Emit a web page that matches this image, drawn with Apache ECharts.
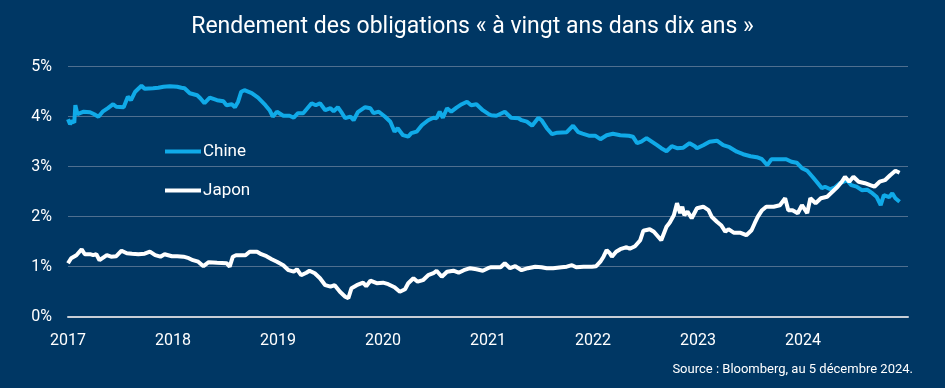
<!DOCTYPE html>
<html>
<head>
<meta charset="utf-8">
<script src="https://cdn.jsdelivr.net/npm/echarts@6/dist/echarts.min.js"></script>
<style>
html,body{margin:0;padding:0;background:#003764;}
#c{width:945px;height:388px;}
</style>
</head>
<body>
<div id="c"></div>
<script>
const titleText = "Rendement des obligations « à vingt ans dans dix ans »";
const sourceText = "Source : Bloomberg, au 5 décembre 2024.";
const yearTicks = ["2017","2018","2019","2020","2021","2022","2023","2024"];
const yTicks = ["0%","1%","2%","3%","4%","5%"];
const seriesNames = ["Chine","Japon"];

const chinaX = [2017.00,2017.02,2017.04,2017.06,2017.07,2017.09,2017.10,2017.15,2017.21,2017.25,2017.29,2017.33,2017.38,2017.43,2017.46,2017.53,2017.57,2017.60,2017.64,2017.70,2017.73,2017.81,2017.86,2017.91,2017.97,
2018.04,2018.08,2018.11,2018.16,2018.23,2018.26,2018.30,2018.35,2018.42,2018.48,2018.51,2018.56,2018.59,2018.62,2018.65,2018.68,2018.75,2018.81,2018.88,2018.92,2018.95,2018.99,
2019.05,2019.11,2019.15,2019.19,2019.24,2019.32,2019.36,2019.40,2019.45,2019.50,2019.53,2019.57,2019.61,2019.64,2019.69,2019.72,2019.76,2019.83,2019.88,2019.91,2019.96,
2020.02,2020.07,2020.11,2020.14,2020.19,2020.24,2020.27,2020.32,2020.37,2020.43,2020.48,2020.51,2020.54,2020.57,2020.61,2020.65,2020.70,2020.75,2020.80,2020.84,2020.89,2020.95,
2021.00,2021.03,2021.08,2021.13,2021.16,2021.22,2021.29,2021.32,2021.37,2021.42,2021.48,2021.51,2021.56,2021.61,2021.66,2021.75,2021.81,2021.86,2021.90,2021.96,
2022.02,2022.07,2022.13,2022.19,2022.26,2022.34,2022.38,2022.42,2022.46,2022.51,2022.56,2022.61,2022.65,2022.70,2022.75,2022.80,2022.86,2022.92,2022.97,2022.99,
2023.05,2023.11,2023.18,2023.24,2023.30,2023.37,2023.43,2023.50,2023.56,2023.61,2023.66,2023.70,2023.78,2023.84,2023.89,2023.94,2023.99,
2024.04,2024.09,2024.13,2024.18,2024.21,2024.26,2024.30,2024.35,2024.39,2024.42,2024.46,2024.51,2024.56,2024.61,2024.66,2024.70,2024.74,2024.77,2024.82,2024.85,2024.88,2024.92];
const chinaY = [3.95,3.85,3.92,3.88,4.23,4.05,4.08,4.10,4.09,4.05,4.00,4.10,4.17,4.25,4.20,4.19,4.40,4.33,4.50,4.62,4.56,4.57,4.58,4.60,4.61,
4.60,4.58,4.57,4.47,4.43,4.37,4.27,4.38,4.33,4.31,4.23,4.25,4.19,4.30,4.50,4.53,4.47,4.38,4.23,4.13,4.00,4.10,
4.02,4.02,3.98,4.07,4.07,4.27,4.23,4.27,4.13,4.17,4.11,4.19,4.07,3.97,4.00,3.93,4.09,4.19,4.17,4.07,4.10,
4.00,3.90,3.70,3.77,3.63,3.60,3.67,3.70,3.83,3.93,3.98,3.97,4.10,3.98,4.17,4.10,4.18,4.25,4.30,4.23,4.25,4.13,
4.06,4.03,4.02,4.07,4.10,3.98,3.97,3.93,3.90,3.82,3.98,3.93,3.77,3.65,3.68,3.69,3.82,3.69,3.66,3.62,
3.62,3.55,3.63,3.66,3.63,3.62,3.60,3.47,3.50,3.57,3.50,3.43,3.37,3.31,3.41,3.37,3.38,3.47,3.41,3.37,
3.43,3.50,3.52,3.43,3.39,3.30,3.25,3.21,3.19,3.15,3.03,3.15,3.15,3.15,3.10,3.08,2.97,
2.92,2.80,2.70,2.57,2.60,2.55,2.58,2.67,2.70,2.73,2.63,2.60,2.53,2.54,2.47,2.40,2.23,2.43,2.39,2.47,2.37,2.30];

const japanX = [2017.00,2017.03,2017.08,2017.13,2017.16,2017.21,2017.24,2017.27,2017.30,2017.37,2017.41,2017.46,2017.51,2017.56,2017.61,2017.67,2017.73,2017.78,2017.83,2017.88,2017.92,2017.99,
2018.04,2018.10,2018.15,2018.19,2018.24,2018.29,2018.34,2018.42,2018.51,2018.54,2018.57,2018.60,2018.69,2018.73,2018.80,2018.84,2018.89,2018.94,2018.99,
2019.05,2019.10,2019.15,2019.18,2019.22,2019.27,2019.30,2019.35,2019.40,2019.45,2019.50,2019.54,2019.59,2019.64,2019.67,2019.70,2019.75,2019.81,2019.84,2019.88,2019.94,
2020.00,2020.05,2020.11,2020.16,2020.21,2020.24,2020.29,2020.33,2020.38,2020.43,2020.48,2020.51,2020.56,2020.61,2020.67,2020.72,2020.77,2020.83,2020.89,2020.95,
2021.00,2021.03,2021.12,2021.16,2021.21,2021.26,2021.32,2021.38,2021.45,2021.51,2021.56,2021.62,2021.70,2021.75,2021.80,2021.84,2021.91,2021.99,
2022.03,2022.07,2022.10,2022.13,2022.16,2022.18,2022.22,2022.26,2022.32,2022.35,2022.40,2022.45,2022.48,2022.54,2022.58,2022.65,2022.70,2022.73,2022.77,2022.80,2022.83,2022.85,2022.87,2022.90,2022.94,2022.99,
2023.05,2023.10,2023.13,2023.18,2023.22,2023.26,2023.29,2023.34,2023.40,2023.46,2023.51,2023.54,2023.57,2023.61,2023.65,2023.72,2023.78,2023.83,2023.86,2023.90,2023.95,2023.99,
2024.04,2024.07,2024.12,2024.17,2024.23,2024.28,2024.33,2024.37,2024.40,2024.44,2024.48,2024.53,2024.59,2024.64,2024.68,2024.73,2024.78,2024.83,2024.88,2024.92];
const japanY = [1.07,1.17,1.23,1.35,1.25,1.25,1.23,1.25,1.13,1.23,1.20,1.21,1.32,1.27,1.26,1.25,1.26,1.30,1.23,1.20,1.25,1.21,
1.21,1.20,1.17,1.13,1.10,1.01,1.09,1.08,1.07,1.00,1.20,1.23,1.23,1.30,1.30,1.25,1.21,1.15,1.10,
1.03,0.93,0.90,0.95,0.83,0.88,0.92,0.87,0.77,0.63,0.60,0.63,0.50,0.40,0.37,0.57,0.63,0.68,0.61,0.72,0.67,
0.68,0.65,0.59,0.50,0.55,0.67,0.77,0.70,0.73,0.83,0.87,0.92,0.80,0.90,0.92,0.88,0.93,0.97,0.95,0.92,
0.97,0.99,0.99,1.07,0.97,1.01,0.93,0.97,1.00,0.99,0.97,0.97,0.99,1.00,1.03,0.99,1.00,1.00,
1.01,1.10,1.20,1.33,1.27,1.20,1.30,1.35,1.39,1.36,1.41,1.53,1.72,1.75,1.70,1.53,1.80,1.88,2.03,2.27,2.07,2.20,2.03,2.10,1.97,2.17,
2.20,2.13,2.00,1.90,1.83,1.70,1.75,1.68,1.68,1.63,1.73,1.87,2.00,2.13,2.20,2.20,2.23,2.37,2.13,2.13,2.07,2.23,
2.07,2.37,2.27,2.37,2.40,2.50,2.60,2.70,2.80,2.70,2.80,2.70,2.67,2.63,2.60,2.70,2.73,2.83,2.92,2.88];

const zip = (xs, ys) => xs.map((x, i) => [x, ys[i]]);

const chart = echarts.init(document.getElementById('c'));
const font = 'Roboto';
chart.setOption({
  backgroundColor: '#003764',
  animation: false,
  title: [{
    text: titleText, left: 'center', top: 11,
    textStyle: {color: '#ffffff', fontSize: 23, fontWeight: 'normal', fontFamily: font}
  }, {
    text: sourceText, right: 27, top: 358,
    textStyle: {color: '#ffffff', fontSize: 13, fontWeight: 'normal', fontFamily: font}
  }],
  grid: {left: 68, right: 37, top: 66.7, bottom: 71.3, containLabel: false},
  legend: {
    orient: 'vertical', left: 160, top: 138, itemWidth: 36, itemHeight: 4, itemGap: 22,
    icon: 'rect',
    data: seriesNames,
    textStyle: {color: '#ffffff', fontSize: 17, fontFamily: font, padding: [0,0,0,-3]}
  },
  xAxis: {
    type: 'value', min: 2017, max: 2025, interval: 1,
    axisLine: {show: true, lineStyle: {color: '#c8ced6', width: 2}},
    axisTick: {show: false},
    splitLine: {show: false},
    axisLabel: {
      color: '#ffffff', fontSize: 16, fontFamily: font, margin: 16,
      formatter: v => { const i = Math.round(v) - 2017; return yearTicks[i] || ''; }
    }
  },
  yAxis: {
    type: 'value', min: 0, max: 5, interval: 1,
    axisLine: {show: false}, axisTick: {show: false},
    splitLine: {lineStyle: {color: '#4f6f8f', width: 1}},
    axisLabel: {
      color: '#ffffff', fontSize: 16, fontFamily: font, margin: 16,
      formatter: v => yTicks[Math.round(v)]
    }
  },
  series: [{
    name: seriesNames[0], type: 'line', data: zip(chinaX, chinaY),
    showSymbol: false, symbol: 'none', color: '#10aae8',
    lineStyle: {width: 4, color: '#10aae8'}
  }, {
    name: seriesNames[1], type: 'line', data: zip(japanX, japanY),
    showSymbol: false, symbol: 'none', color: '#ffffff',
    lineStyle: {width: 4, color: '#ffffff'}
  }]
});
</script>
</body>
</html>
